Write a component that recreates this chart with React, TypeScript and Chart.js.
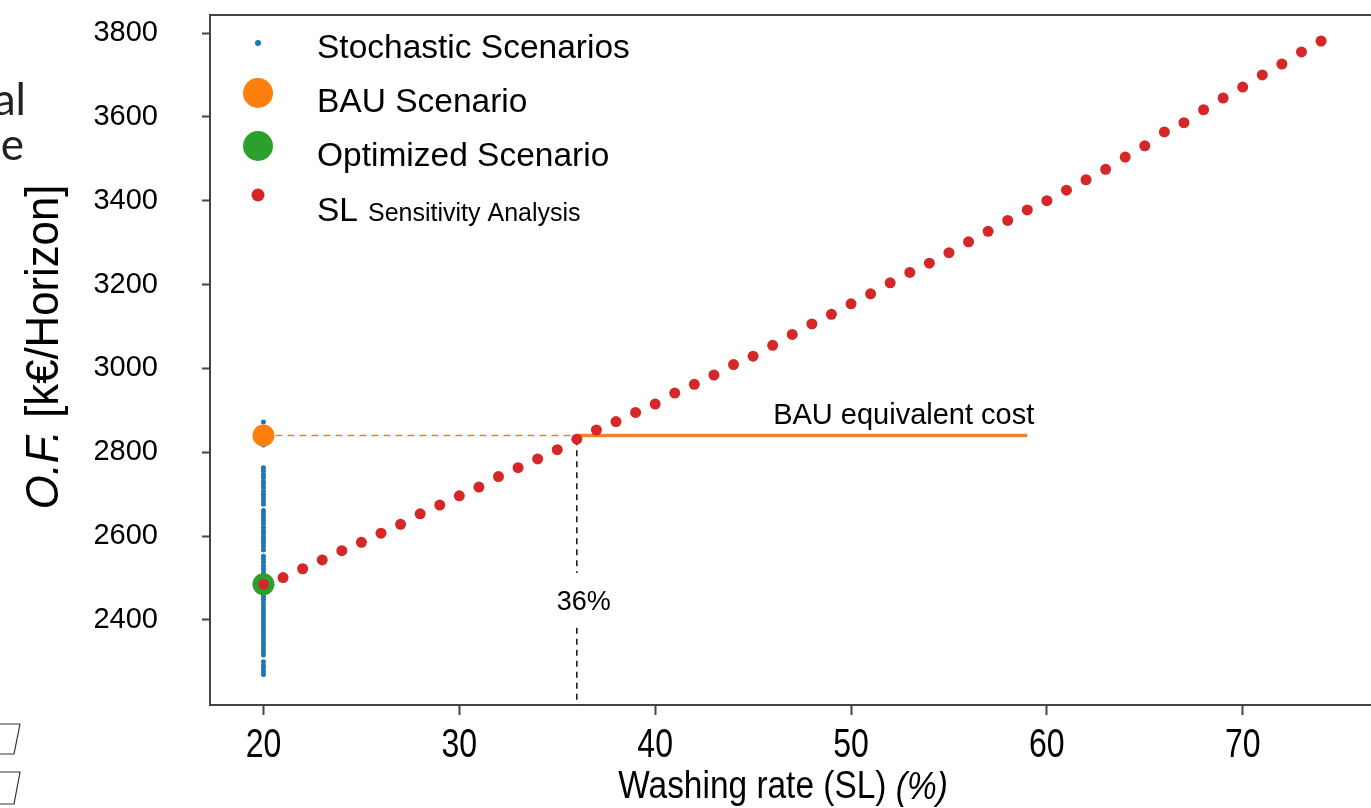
import React, { useEffect, useRef } from 'react';
import { Chart, registerables } from 'chart.js';

Chart.register(...registerables);

// ---- data ----
const SL_RATES = [20, 21, 22, 23, 24, 25, 26, 27, 28, 29, 30, 31, 32, 33, 34, 35, 36, 37, 38, 39, 40, 41, 42, 43, 44, 45, 46, 47, 48, 49, 50, 51, 52, 53, 54, 55, 56, 57, 58, 59, 60, 61, 62, 63, 64, 65, 66, 67, 68, 69, 70, 71, 72, 73, 74];
const SL_COST = [2485, 2501, 2522, 2543, 2565, 2585, 2607, 2628, 2653, 2674, 2696, 2717, 2742, 2763, 2784, 2806, 2831, 2853, 2873, 2895, 2915, 2941, 2962, 2984, 3009, 3029, 3055, 3081, 3106, 3129, 3154, 3178, 3204, 3229, 3251, 3276, 3302, 3327, 3353, 3378, 3400, 3425, 3450, 3475, 3504, 3531, 3564, 3586, 3617, 3645, 3671, 3700, 3726, 3755, 3781];
const STOCH_RATE = 20;
const STOCH_COST = [2872, 2858, 2841, 2829, 2817, 2763, 2755, 2747, 2740, 2731, 2724, 2716, 2707, 2699, 2692, 2684, 2676, 2661, 2653, 2646, 2638, 2630, 2621, 2613, 2606, 2598, 2590, 2583, 2575, 2567, 2552, 2544, 2537, 2528, 2520, 2512, 2503, 2495, 2488, 2480, 2472, 2464, 2456, 2449, 2441, 2433, 2425, 2418, 2410, 2402, 2394, 2386, 2379, 2371, 2363, 2355, 2347, 2340, 2332, 2324, 2316, 2300, 2292, 2285, 2277, 2270];
const BAU_RATE = 20;
const BAU_COST = 2840;
const OPT_RATE = 20;
const OPT_COST = 2485;
const EQUIV_RATE = 36;
const EQUIV_LINE_END = 59;
const VLINE_TOP = 2831;
const VLINE_GAP = [2512, 2381];
const X_TICKS = [20, 30, 40, 50, 60, 70];
const Y_TICKS = [2400, 2600, 2800, 3000, 3200, 3400, 3600, 3800];
const X_MIN = 17.27;
const X_MAX = 76.55;
const Y_MIN = 2197;
const Y_MAX = 3843;
const LEGEND_LABELS = ['Stochastic Scenarios', 'BAU Scenario', 'Optimized Scenario', 'SL'];
const LEGEND_SUB = 'Sensitivity Analysis';
const EQUIV_LABEL = 'BAU equivalent cost';
const RATE_LABEL = '36%';

const BLUE = '#1f77b4';
const ORANGE = '#ff7f0e';
const GREEN = '#2ca02c';
const RED = '#d62728';
const FONT = '"Liberation Sans", Arial, sans-serif';

function drawCondensed(ctx: CanvasRenderingContext2D, parts: { t: string; f: string }[], cx: number, cy: number, sx: number) {
  let total = 0;
  const widths = parts.map((p) => {
    ctx.font = p.f;
    const w = ctx.measureText(p.t).width;
    total += w;
    return w;
  });
  ctx.save();
  ctx.translate(cx, cy);
  ctx.scale(sx, 1);
  let x = -total / 2;
  parts.forEach((p, i) => {
    ctx.font = p.f;
    ctx.fillText(p.t, x, 0);
    x += widths[i];
  });
  ctx.restore();
}

const overlay = {
  id: 'overlay',
  afterDraw(chart: any) {
    const ctx = chart.ctx as CanvasRenderingContext2D;
    const xs = chart.scales.x;
    const ys = chart.scales.y;
    const area = chart.chartArea;
    ctx.save();
    // top frame line
    ctx.strokeStyle = '#444';
    ctx.lineWidth = 2;
    ctx.beginPath();
    ctx.moveTo(area.left, area.top);
    ctx.lineTo(area.right, area.top);
    ctx.stroke();

    ctx.fillStyle = '#000';
    ctx.textAlign = 'left';
    ctx.textBaseline = 'middle';
    // x tick labels (condensed face), positioned by the x scale
    xs.ticks.forEach((t: any) => {
      drawCondensed(ctx, [{ t: String(t.value), f: `40px ${FONT}` }], xs.getPixelForValue(t.value), 746, 0.8);
    });

    // annotation texts
    ctx.font = `29px ${FONT}`;
    ctx.textAlign = 'right';
    ctx.fillText(EQUIV_LABEL, xs.getPixelForValue(EQUIV_LINE_END) + 7, ys.getPixelForValue(BAU_COST) - 19);
    ctx.textAlign = 'center';
    ctx.font = `27px ${FONT}`;
    ctx.fillText(RATE_LABEL, xs.getPixelForValue(EQUIV_RATE) + 7, (ys.getPixelForValue(VLINE_GAP[0]) + ys.getPixelForValue(VLINE_GAP[1])) / 2 + 2);

    // legend
    const lx = 258;
    const markers = [
      { y: 43, r: 3, c: BLUE },
      { y: 93, r: 15, c: ORANGE },
      { y: 146, r: 15, c: GREEN },
      { y: 195, r: 6.5, c: RED },
    ];
    markers.forEach((m) => {
      ctx.beginPath();
      ctx.fillStyle = m.c;
      ctx.arc(lx, m.y, m.r, 0, Math.PI * 2);
      ctx.fill();
    });
    ctx.fillStyle = '#000';
    ctx.textAlign = 'left';
    ctx.textBaseline = 'alphabetic';
    ctx.font = `33.5px ${FONT}`;
    const ty = [58, 112, 166, 221];
    LEGEND_LABELS.forEach((t, i) => ctx.fillText(t, 317, ty[i]));
    const slw = ctx.measureText(LEGEND_LABELS[3]).width;
    ctx.font = `25px ${FONT}`;
    ctx.fillText(LEGEND_SUB, 317 + slw + 10, 221);

    // y axis title (rotated, slightly condensed)
    ctx.save();
    ctx.translate(45, 347);
    ctx.rotate(-Math.PI / 2);
    ctx.textAlign = 'left';
    ctx.textBaseline = 'middle';
    drawCondensed(ctx, [
      { t: 'O.F.', f: `italic 47px ${FONT}` },
      { t: ' [k€/Horizon]', f: `47px ${FONT}` },
    ], 0, 0, 0.93);
    ctx.restore();

    // x axis title (condensed)
    ctx.textAlign = 'left';
    ctx.textBaseline = 'middle';
    drawCondensed(ctx, [
      { t: 'Washing rate (SL) ', f: `38px ${FONT}` },
      { t: '(%)', f: `italic 38px ${FONT}` },
    ], 783, 788, 0.88);

    // cropped fragments on the left edge
    ctx.fillStyle = '#222';
    ctx.font = `44px Lato, ${FONT}`;
    ctx.textAlign = 'right';
    ctx.textBaseline = 'alphabetic';
    ctx.fillText('al', 26, 115);
    ctx.fillText('e', 24, 160);
    ctx.strokeStyle = '#333';
    ctx.lineWidth = 1.2;
    ctx.beginPath();
    ctx.moveTo(0, 724); ctx.lineTo(20, 724); ctx.lineTo(14, 754); ctx.lineTo(0, 754);
    ctx.moveTo(0, 772); ctx.lineTo(20, 772); ctx.lineTo(14, 804); ctx.lineTo(0, 804);
    ctx.stroke();
    ctx.restore();
  },
};

export default function App() {
  const ref = useRef<HTMLCanvasElement | null>(null);
  useEffect(() => {
    if (!ref.current) return;
    const chart = new Chart(ref.current, {
      type: 'scatter',
      data: {
        datasets: [
          {
            label: 'SL Sensitivity Analysis',
            data: SL_RATES.map((x, i) => ({ x, y: SL_COST[i] })),
            backgroundColor: RED,
            borderWidth: 0,
            pointRadius: 5.5,
            order: 0,
          },
          {
            label: 'Optimized Scenario',
            data: [{ x: OPT_RATE, y: OPT_COST }],
            backgroundColor: GREEN,
            borderWidth: 0,
            pointRadius: 11,
            order: 1,
          },
          {
            label: 'BAU Scenario',
            data: [{ x: BAU_RATE, y: BAU_COST }],
            backgroundColor: ORANGE,
            borderWidth: 0,
            pointRadius: 11,
            order: 2,
          },
          {
            label: 'Stochastic Scenarios',
            data: STOCH_COST.map((y) => ({ x: STOCH_RATE, y })),
            backgroundColor: BLUE,
            borderWidth: 0,
            pointRadius: 2.5,
            order: 3,
          },
          {
            label: 'bau-dash',
            data: [{ x: BAU_RATE, y: BAU_COST }, { x: EQUIV_RATE, y: BAU_COST }],
            showLine: true,
            borderColor: ORANGE,
            borderWidth: 1.5,
            borderDash: [7, 5],
            pointRadius: 0,
            order: 4,
          },
          {
            label: 'bau-equivalent',
            data: [{ x: EQUIV_RATE, y: BAU_COST }, { x: EQUIV_LINE_END, y: BAU_COST }],
            showLine: true,
            borderColor: '#f08232',
            borderWidth: 3.5,
            pointRadius: 0,
            order: 5,
          },
          {
            label: 'rate-line',
            data: [
              { x: EQUIV_RATE, y: VLINE_TOP },
              { x: EQUIV_RATE, y: VLINE_GAP[0] },
              { x: EQUIV_RATE, y: null },
              { x: EQUIV_RATE, y: VLINE_GAP[1] },
              { x: EQUIV_RATE, y: Y_MIN },
            ] as any,
            showLine: true,
            spanGaps: false,
            borderColor: '#111',
            borderWidth: 1.5,
            borderDash: [6, 5],
            pointRadius: 0,
            order: 6,
          },
        ],
      },
      options: {
        animation: false,
        responsive: false,
        layout: { autoPadding: false, padding: { top: 15, left: 0, right: 0, bottom: 0 } },
        plugins: { legend: { display: false }, tooltip: { enabled: false } },
        scales: {
          x: {
            type: 'linear',
            min: X_MIN,
            max: X_MAX,
            afterBuildTicks: (s: any) => { s.ticks = X_TICKS.map((v) => ({ value: v })); },
            afterFit: (s: any) => { s.height = 103; s.paddingLeft = 0; s.paddingRight = 0; s.paddingTop = 0; s.paddingBottom = 0; },
            grid: { drawOnChartArea: false, drawTicks: true, tickLength: 10, tickColor: '#444', tickWidth: 2 },
            border: { display: true, color: '#444', width: 2 },
            ticks: { display: false, autoSkip: false },
          },
          y: {
            type: 'linear',
            min: Y_MIN,
            max: Y_MAX,
            afterBuildTicks: (s: any) => { s.ticks = Y_TICKS.map((v) => ({ value: v })); },
            afterFit: (s: any) => { s.width = 210; s.paddingLeft = 0; s.paddingRight = 0; s.paddingTop = 0; s.paddingBottom = 0; },
            grid: { drawOnChartArea: false, drawTicks: true, tickLength: 8, tickColor: '#444', tickWidth: 2 },
            border: { display: true, color: '#444', width: 2 },
            ticks: { color: '#000', font: { family: FONT, size: 29 }, padding: 44, autoSkip: false, callback: (v: any) => String(v) },
          },
        },
      },
      plugins: [overlay],
    });
    return () => chart.destroy();
  }, []);
  return (
    <div style={{ position: 'absolute', left: 0, top: 0, width: 1371, height: 808, background: '#fff' }}>
      <canvas ref={ref} width={1371} height={808} style={{ display: 'block' }} />
    </div>
  );
}
